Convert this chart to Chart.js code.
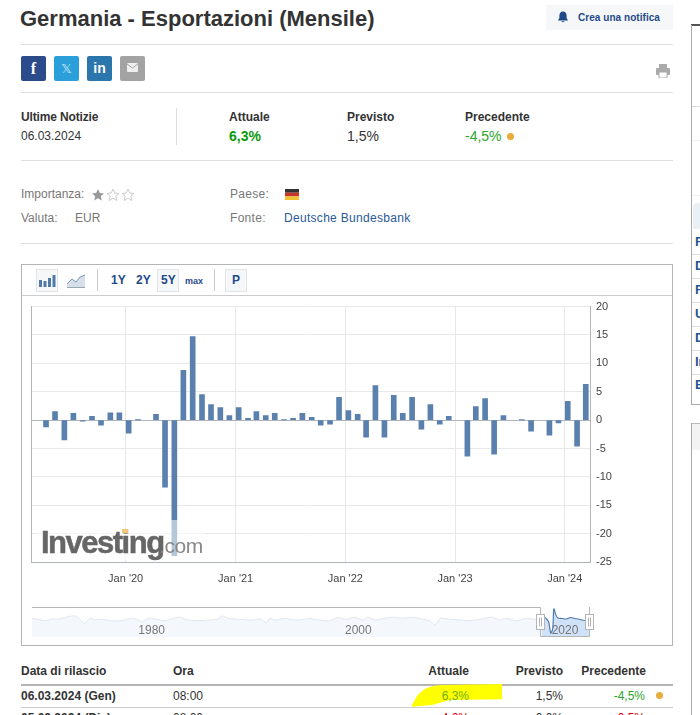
<!DOCTYPE html>
<html>
<head>
<meta charset="utf-8">
<title>Germania - Esportazioni (Mensile)</title>
<script src="https://cdn.jsdelivr.net/npm/chart.js@4"></script>
<style>
  html, body { margin: 0; padding: 0; background: #fff; }
  body { position: relative; width: 700px; height: 715px; overflow: hidden; font-family: "Liberation Sans", Arial, sans-serif; color: #333; }
  .t { position: absolute; white-space: nowrap; font-size: 12px; line-height: 14px; }
  .b { font-weight: bold; }
  .g { color: #777; }
  .r { text-align: right; }
  .hr { position: absolute; height: 1px; background: #ddd; left: 21px; width: 652px; }
  .box { position: absolute; box-sizing: border-box; }
  .btn { position: absolute; box-sizing: border-box; background: #f6f7f8; border: 1px solid #e2e4e6; height: 23px; top: 269px; }
  .nav { color: #1f4a8a; font-weight: bold; }
  .side { position: absolute; left: 695px; color: #1f5590; font-size: 13px; font-weight: bold; line-height: 14px; }
  canvas { position: absolute; }
</style>
</head>
<body>

<div class="t b" style="left:20px;top:6px;font-size:22px;line-height:26px;color:#333">Germania - Esportazioni (Mensile)</div>
<div class="box" style="left:546px;top:5px;width:127px;height:25px;background:#f6f7f9"></div>
<svg class="box" style="left:557px;top:11px" width="12" height="13" viewBox="0 0 12 13"><path d="M6 0.5c-2.4 0-3.6 1.8-3.6 4v2.6L1 9.4h10L9.6 7.1V4.5C9.6 2.3 8.4.5 6 .5zM4.4 10.2a1.7 1.7 0 0 0 3.2 0z" fill="#1f4a8a"/></svg>
<div class="t b" style="left:578px;top:11px;font-size:10px;color:#1f4a8a;letter-spacing:.05px">Crea una notifica</div>

<div class="hr" style="top:44px"></div>
<div class="box" style="left:21px;top:56px;width:25px;height:25px;background:#2b4b8b;border-radius:2px;color:#fff;font:bold 16px/25px 'Liberation Serif';text-align:center">f</div>
<div class="box" style="left:54px;top:56px;width:25px;height:25px;background:#2a9fd9;border-radius:2px;color:#cfeafa;font:13px/25px 'DejaVu Sans';text-align:center">𝕏</div>
<div class="box" style="left:87px;top:56px;width:25px;height:25px;background:#2a76ad;border-radius:2px;color:#fff;font:bold 14px/25px 'Liberation Sans';text-align:center">in</div>
<div class="box" style="left:120px;top:56px;width:25px;height:25px;background:#a3a3a3;border-radius:2px"></div>
<svg class="box" style="left:127px;top:63px" width="11" height="9" viewBox="0 0 11 9"><rect width="11" height="9" rx="1" fill="#eee"/><path d="M0 1l5.5 4L11 1" fill="none" stroke="#a3a3a3"/></svg>
<svg class="box" style="left:656px;top:64px" width="14" height="14" viewBox="0 0 14 14"><rect x="3" y="0" width="8" height="4" fill="#aaa"/><rect x="0" y="4" width="14" height="7" rx="1" fill="#aaa"/><rect x="3" y="8" width="8" height="6" fill="#fff" stroke="#aaa"/></svg>
<div class="hr" style="top:92px"></div>

<div class="t b" style="left:21px;top:110px;letter-spacing:-.15px">Ultime Notizie</div>
<div class="t" style="left:21px;top:129px">06.03.2024</div>
<div class="box" style="left:176px;top:108px;width:1px;height:37px;background:#ddd"></div>
<div class="t b" style="left:229px;top:110px">Attuale</div>
<div class="t b" style="left:229px;top:128px;font-size:14px;line-height:16px;color:#0a9a0a">6,3%</div>
<div class="t b" style="left:347px;top:110px">Previsto</div>
<div class="t" style="left:347px;top:128px;font-size:14px;line-height:16px">1,5%</div>
<div class="t b" style="left:465px;top:110px">Precedente</div>
<div class="t" style="left:465px;top:128px;font-size:14px;line-height:16px;color:#2aa52a">-4,5%</div>
<div class="box" style="left:507px;top:133px;width:7px;height:7px;border-radius:50%;background:#e8ad3c"></div>
<div class="hr" style="top:160px"></div>

<div class="t g" style="left:21px;top:187px">Importanza:</div>
<svg class="box" style="left:91px;top:188px" width="44" height="14" viewBox="0 0 44 14">
  <path d="M7 1l1.8 4 4.2.4-3.2 2.8 1 4.3L7 10.2 3.2 12.5l1-4.3L1 5.4 5.2 5z" fill="#999"/>
  <path transform="translate(15 0)" d="M7 1l1.8 4 4.2.4-3.2 2.8 1 4.3L7 10.2 3.2 12.5l1-4.3L1 5.4 5.2 5z" fill="#fff" stroke="#ccc"/>
  <path transform="translate(30 0)" d="M7 1l1.8 4 4.2.4-3.2 2.8 1 4.3L7 10.2 3.2 12.5l1-4.3L1 5.4 5.2 5z" fill="#fff" stroke="#ccc"/>
</svg>
<div class="t g" style="left:21px;top:211px">Valuta:</div>
<div class="t g" style="left:75px;top:211px">EUR</div>
<div class="t g" style="left:230px;top:187px;letter-spacing:.3px">Paese:</div>
<svg class="box" style="left:285px;top:189px" width="14" height="11" viewBox="0 0 14 11"><rect width="14" height="3.7" fill="#333"/><rect y="3.7" width="14" height="3.7" fill="#c8352b"/><rect y="7.4" width="14" height="3.6" fill="#f2c230"/></svg>
<div class="t g" style="left:230px;top:211px;letter-spacing:.3px">Fonte:</div>
<div class="t" style="left:284px;top:211px;color:#2a5a9a;letter-spacing:.3px">Deutsche Bundesbank</div>
<div class="hr" style="top:243px"></div>

<!-- sidebar clipped at the window edge -->
<div class="box" style="left:691px;top:24px;width:9px;height:2px;background:#555"></div>
<div class="box" style="left:691px;top:25px;width:1px;height:379px;background:#aaa"></div>
<div class="box" style="left:691px;top:404px;width:9px;height:1px;background:#aaa"></div>
<div class="box" style="left:692px;top:106px;width:8px;height:1px;background:#ddd"></div>
<div class="box" style="left:692px;top:140px;width:8px;height:1px;background:#eee"></div>
<div class="box" style="left:692px;top:195px;width:8px;height:1px;background:#eee"></div>
<div class="box" style="left:693px;top:203px;width:7px;height:26px;background:#e9f0f6;border-radius:4px 0 0 0"></div>
<div class="side" style="top:235px">F</div><div class="side" style="top:259px">D</div>
<div class="side" style="top:283px">F</div><div class="side" style="top:307px">U</div>
<div class="side" style="top:331px">D</div><div class="side" style="top:355px">In</div>
<div class="side" style="top:378px">E</div>
<div class="box" style="left:692px;top:254px;width:8px;height:1px;background:#ddd"></div>
<div class="box" style="left:692px;top:278px;width:8px;height:1px;background:#ddd"></div>
<div class="box" style="left:692px;top:302px;width:8px;height:1px;background:#ddd"></div>
<div class="box" style="left:692px;top:326px;width:8px;height:1px;background:#ddd"></div>
<div class="box" style="left:692px;top:350px;width:8px;height:1px;background:#ddd"></div>
<div class="box" style="left:692px;top:374px;width:8px;height:1px;background:#ddd"></div>
<div class="box" style="left:691px;top:423px;width:9px;height:27px;background:#f3f3f3;border-top:1px solid #bbb"></div>
<div class="box" style="left:691px;top:423px;width:1px;height:292px;background:#aaa"></div>

<!-- chart frame and toolbar -->
<div class="box" style="left:21px;top:264px;width:652px;height:382px;border:1px solid #b5b5b5"></div>
<div class="box" style="left:22px;top:295px;width:650px;height:1px;background:#ccc"></div>
<div class="btn" style="left:36px;width:22px"></div>
<svg class="box" style="left:39px;top:274px" width="17" height="13" viewBox="0 0 17 13" fill="#4f7bab"><rect x="0" y="6" width="3" height="7"/><rect x="4.5" y="7" width="3" height="6"/><rect x="9" y="4" width="3" height="9"/><rect x="13.5" y="1" width="3" height="12"/></svg>
<svg class="box" style="left:67px;top:274px" width="18" height="14" viewBox="0 0 18 14"><path d="M0 10L5 5l4 3 4-5 5-2v12H0z" fill="#d7e0ea"/><path d="M0 10L5 5l4 3 4-5 5-2" fill="none" stroke="#7c98b8"/><path d="M0 13.5h18" stroke="#9aa"/></svg>
<div class="box" style="left:97px;top:269px;width:1px;height:22px;background:#ccc"></div>
<div class="t nav" style="left:111px;top:273px">1Y</div>
<div class="t nav" style="left:136px;top:273px">2Y</div>
<div class="btn" style="left:157px;width:22px"></div>
<div class="t nav" style="left:161px;top:273px">5Y</div>
<div class="t nav" style="left:185px;top:274px;font-size:9px">max</div>
<div class="box" style="left:214px;top:269px;width:1px;height:22px;background:#ccc"></div>
<div class="btn" style="left:225px;width:22px"></div>
<div class="t nav" style="left:232px;top:273px">P</div>

<canvas id="chart" width="650" height="306" style="left:22px;top:294px"></canvas>

<!-- watermark sits over the bars -->
<div class="box" style="left:38px;top:520px;width:168px;height:40px;background:rgba(255,255,255,.55)"></div>
<div class="t b" style="left:41px;top:525px;font-size:31px;line-height:36px;color:#666;letter-spacing:-1.5px;-webkit-text-stroke:.5px #666">Investing</div>
<div class="t" style="left:159px;top:533px;font-size:21px;line-height:26px;color:#888;letter-spacing:-.4px">.com</div>
<div class="box" style="left:122px;top:529px;width:6px;height:4px;background:#f5c67a"></div>

<!-- navigator -->
<canvas id="navigator" width="558" height="30" style="left:32px;top:607px"></canvas>
<svg class="box" style="left:30px;top:604px" width="566" height="36" viewBox="0 0 566 36">
  <path d="M2 3.5H510.5V32.5H559.5V3" fill="none" stroke="#b5b5b5"/>
  <g fill="#fff" stroke="#b5b5b5">
    <rect x="506.5" y="10.5" width="8" height="15"/>
    <rect x="555.5" y="10.5" width="8" height="15"/>
  </g>
  <path d="M509.5 13.5v9M511.5 13.5v9M558.5 13.5v9M560.5 13.5v9" stroke="#b5b5b5"/>
</svg>

<!-- history table -->
<div class="t b" style="left:21px;top:664px">Data di rilascio</div>
<div class="t b" style="left:173px;top:664px">Ora</div>
<div class="t b r" style="right:231px;top:664px">Attuale</div>
<div class="t b r" style="right:137px;top:664px">Previsto</div>
<div class="t b r" style="right:54px;top:664px">Precedente</div>
<div class="box" style="left:21px;top:684px;width:652px;height:2px;background:#b5b5b5"></div>
<svg class="box" style="left:410px;top:682px" width="94" height="27" viewBox="0 0 94 27"><path d="M2 23L7 14C11 9 15 6 20 5 26 3 32 3 37 3L92 2V17.3L40 18 22 23 2 24.7z" fill="#ff0"/></svg>
<div class="t b" style="left:21px;top:689px">06.03.2024 (Gen)</div>
<div class="t" style="left:173px;top:689px">08:00</div>
<div class="t r" style="right:231px;top:689px;color:#6fb01a">6,3%</div>
<div class="t r" style="right:137px;top:689px">1,5%</div>
<div class="t r" style="right:55px;top:689px;color:#2aa52a">-4,5%</div>
<div class="box" style="left:656px;top:692px;width:7px;height:7px;border-radius:50%;background:#e8ad3c"></div>
<div class="box" style="left:21px;top:707px;width:652px;height:1px;background:#ccc"></div>
<div class="t b" style="left:21px;top:711px">05.02.2024 (Dic)</div>
<div class="t" style="left:173px;top:711px">08:00</div>
<div class="t r" style="right:231px;top:711px;color:#d00">-4,6%</div>
<div class="t r" style="right:137px;top:711px">0,0%</div>
<div class="t r" style="right:55px;top:711px;color:#d00">-0,5%</div>

<script>
// monthly release dates (the bars sit about the 11th of each month)
const months = [
  '2019-04','2019-05','2019-06','2019-07','2019-08','2019-09','2019-10','2019-11','2019-12',
  '2020-01','2020-02','2020-03','2020-04','2020-05','2020-06','2020-07','2020-08','2020-09','2020-10','2020-11','2020-12',
  '2021-01','2021-02','2021-03','2021-04','2021-05','2021-06','2021-07','2021-08','2021-09','2021-10','2021-11','2021-12',
  '2022-01','2022-02','2022-03','2022-04','2022-05','2022-06','2022-07','2022-08','2022-09','2022-10','2022-11','2022-12',
  '2023-01','2023-02','2023-03','2023-04','2023-05','2023-06','2023-07','2023-08','2023-09','2023-10','2023-11','2023-12',
  '2024-01','2024-02','2024-03'
];
const exportValues = [
  -1.2, 1.5, -3.5, 1.2, -0.2, 0.65, -0.9, 1.3, 1.3,
  -2.3, 0.05, null, 1.0, -11.8, -23.9, 8.75, 14.7, 4.5, 2.75, 2.2, 0.8,
  2.2, 0.3, 1.5, 0.8, 1.2, 0.05, 0.3, 1.2, 0.5, -0.9, -0.7, 4.0,
  1.7, 1.0, -3.0, 6.1, -3.0, 4.35, 1.2, 4.0, -1.6, 2.75, -0.7, 0.65,
  null, -6.35, 2.4, 3.8, -6.0, 0.8, null, 0.05, -1.95, null, -2.65, -0.5,
  3.3, -4.6, 6.3
];
const tickDates = ['2020-01-01', '2021-01-01', '2022-01-01', '2023-01-01', '2024-01-01'];
const tickLabels = ["Jan '20", "Jan '21", "Jan '22", "Jan '23", "Jan '24"];

// faded navigator line, 1970 up to the selected range
const historyYears = [
  1970, 1970.6, 1971.3, 1971.9, 1972.5, 1973.2, 1974.2, 1974.6, 1975.1, 1975.6, 1976.1, 1976.7, 1977.7, 1978.7,
  1979.6, 1980.3, 1980.6, 1981.3, 1982.1, 1982.9, 1983.7, 1984.3, 1985.1, 1986.1, 1987.1, 1987.9, 1988.4, 1989,
  1990, 1991.3, 1992.1, 1992.7, 1993, 1993.5, 1994.5, 1995.5, 1996.4, 1996.9, 1997.8, 1998.8, 1999.6, 2000.4,
  2001.2, 2002, 2002.5, 2003.2, 2004, 2004.9, 2005.9, 2006.9, 2007.8, 2008.5, 2009, 2009.5, 2010.4, 2011.4,
  2012.4, 2013.3, 2014.5, 2015.3, 2015.9, 2016.9, 2017.8, 2018.8, 2019.3
];
const historyValues = [
  1.9, 0.3, -1.9, 0.8, 0.3, 3.5, 5.6, 0.3, -6.2, 1.9, -0.8, 0.3, -1.9, -1.9,
  1.9, -0.8, -3.5, 1.9, 0.3, -1.9, 1.9, 3.5, -0.8, -1.9, -0.8, 0.3, 5.6, 1.9,
  0.3, -0.8, 0.8, -5.1, 1.9, -0.8, 1.9, -0.8, 0.3, 1.9, -0.8, -1.9, 3.0, 0.3,
  3.5, -0.8, 3.5, -0.8, 1.9, 3.5, 1.9, 3.5, 0.3, -1.9, -8.9, 1.9, 0.3, -0.8,
  -1.9, 0.3, 3.5, -0.8, 1.9, -1.9, 1.9, 0.3, 4.0
];
// dark navigator line inside the selected range
const selectedYears = [2019.3, 2019.7, 2020, 2020.2, 2020.4, 2020.5, 2020.7, 2020.9, 2021.3, 2021.7, 2022.1, 2022.5, 2022.9, 2023.2, 2023.6, 2023.9];
const selectedValues = [4.0, 2.4, -4.0, -21.8, -13.7, 17.0, 7.0, 2.4, 1.6, 0.8, 3.2, 1.6, 0.8, -0.8, -1.6, -1.6];
const navTicks = [1980, 2000, 2020];

const barColor = '#5a80ae';
const gridColor = '#e8e8e8';
const axisColor = '#aeb4ba';

const xMin = Date.parse('2019-02-20');
const xMax = Date.parse('2024-03-25');

new Chart(document.getElementById('chart').getContext('2d'), {
  type: 'bar',
  data: {
    datasets: [{
      data: months.map((m, i) => ({ x: Date.parse(m + '-11'), y: exportValues[i] })),
      backgroundColor: barColor,
      barThickness: 5
    }]
  },
  options: {
    responsive: false,
    animation: false,
    events: [],
    layout: { padding: { left: 9, top: 11 } },
    plugins: { legend: { display: false }, tooltip: { enabled: false } },
    scales: {
      x: {
        type: 'linear',
        offset: false,
        min: xMin,
        max: xMax,
        afterBuildTicks: scale => { scale.ticks = tickDates.map(d => ({ value: Date.parse(d) })); },
        afterFit: scale => { scale.height = 38; },
        grid: { offset: false, color: gridColor, drawTicks: false },
        border: { color: axisColor },
        ticks: {
          autoSkip: false,
          maxRotation: 0,
          padding: 10,
          color: '#444',
          font: { family: 'Liberation Sans', size: 11 },
          callback: value => tickLabels[tickDates.findIndex(d => Date.parse(d) === value)]
        }
      },
      y: {
        position: 'right',
        min: -25,
        max: 20,
        afterFit: scale => { scale.width = 82; },
        grid: {
          drawTicks: false,
          color: ctx => ctx.tick.value === 0 ? axisColor : gridColor
        },
        border: { color: axisColor },
        ticks: {
          stepSize: 5,
          padding: 6,
          color: '#444',
          font: { family: 'Liberation Sans', size: 11 }
        }
      },
      // only the gray line on the left edge
      yLeft: {
        position: 'left',
        min: -25,
        max: 20,
        afterFit: scale => { scale.width = 0; },
        grid: { display: false, drawTicks: false },
        border: { color: axisColor },
        ticks: { display: false }
      }
    }
  }
});

new Chart(document.getElementById('navigator').getContext('2d'), {
  type: 'line',
  data: {
    datasets: [
      {
        data: historyYears.map((y, i) => ({ x: y, y: historyValues[i] })),
        borderColor: '#e0e7ef',
        borderWidth: 1,
        backgroundColor: '#f4f7fb',
        fill: 'start',
        pointRadius: 0,
        tension: 0.3
      },
      {
        data: selectedYears.map((y, i) => ({ x: y, y: selectedValues[i] })),
        borderColor: '#4f7bab',
        borderWidth: 1.2,
        backgroundColor: '#cfe2f7',
        fill: 'start',
        pointRadius: 0,
        tension: 0.3
      }
    ]
  },
  options: {
    responsive: false,
    animation: false,
    events: [],
    layout: { padding: 0 },
    plugins: { legend: { display: false }, tooltip: { enabled: false } },
    scales: {
      x: {
        type: 'linear',
        min: 1970,
        max: 2024,
        afterBuildTicks: scale => { scale.ticks = navTicks.map(v => ({ value: v })); },
        afterFit: scale => { scale.height = 0; },
        grid: { display: false },
        border: { display: false },
        ticks: {
          align: 'start',
          mirror: true,  // mirrored labels are not clipped to the zero-height axis
          autoSkip: false,
          maxRotation: 0,
          padding: -1,
          labelOffset: 3,
          z: 1,
          color: '#777',
          font: { family: 'Liberation Sans', size: 12 },
          callback: value => String(value)
        }
      },
      y: { display: false, min: -28, max: 20 }
    }
  }
});
</script>
</body>
</html>
